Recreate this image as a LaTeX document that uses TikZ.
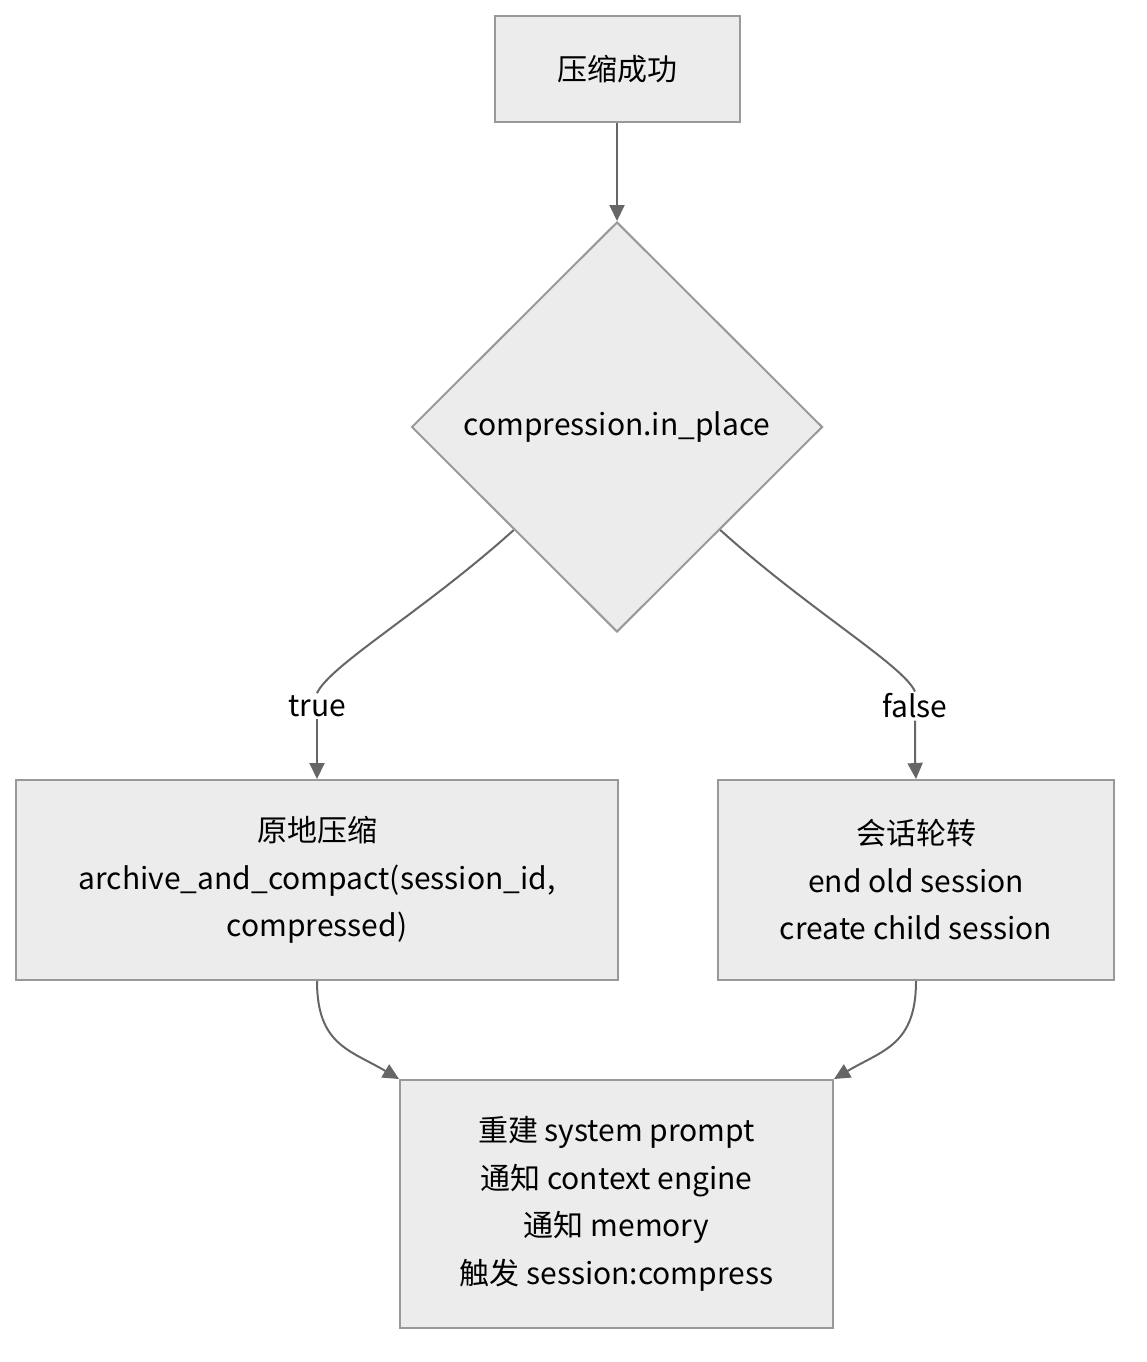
\documentclass[tikz,border=0pt]{standalone}
\usepackage{fontspec}
\setmainfont{Noto Sans CJK SC}
\usetikzlibrary{shapes.geometric,arrows.meta}
\definecolor{boxfill}{HTML}{ECECEC}
\definecolor{boxline}{HTML}{999999}
\definecolor{edgecol}{HTML}{666666}
\begin{document}
\begin{tikzpicture}[x=1pt,y=-1pt,
  font=\fontsize{30}{47.5}\selectfont,
  procbox/.style={draw=boxline,fill=boxfill,line width=2pt,inner sep=0pt,align=center},
  decbox/.style={diamond,draw=boxline,fill=boxfill,line width=2pt,inner sep=0pt,minimum width=411pt,minimum height=410pt},
  edgelab/.style={inner sep=2pt},
  conn/.style={draw=edgecol,line width=2pt},
  arr/.style={conn,-{Triangle[length=16pt,width=15pt]}}]
\useasboundingbox (0,0) rectangle (1146,1362);
\node[procbox,minimum width=245pt,minimum height=106pt] (top) at (617,69) {压缩成功};
\node[decbox] (dec) at (617,427) {compression.in\_place};
\node[procbox,minimum width=602pt,minimum height=200pt] (left) at (317,880) {原地压缩\\archive\_and\_compact(session\_id,\\compressed)};
\node[procbox,minimum width=396pt,minimum height=200pt] (right) at (916,880) {会话轮转\\end old session\\create child session};
\node[procbox,minimum width=433pt,minimum height=248pt] (bot) at (616.5,1204) {重建 system prompt\\通知 context engine\\通知 memory\\触发 session:compress};
\node[edgelab] (tl) at (317,706) {true};
\node[edgelab] (fl) at (915,706) {false};
\draw[arr] (top.south) -- (dec.north);
\draw[conn] (dec.south west) .. controls (425,610) and (330,665) .. (tl.north);
\draw[arr] (tl.south) .. controls (317,745) and (317,760) .. (left.north);
\draw[conn] (dec.south east) .. controls (809,610) and (903,665) .. (fl.north);
\draw[arr] (fl.south) .. controls (915,745) and (915,760) .. (right.north);
\draw[arr] (left.south) .. controls (317,1045) and (350,1050) .. (bot.north west);
\draw[arr] (right.south) .. controls (916,1045) and (883,1050) .. (bot.north east);
\end{tikzpicture}
\end{document}
